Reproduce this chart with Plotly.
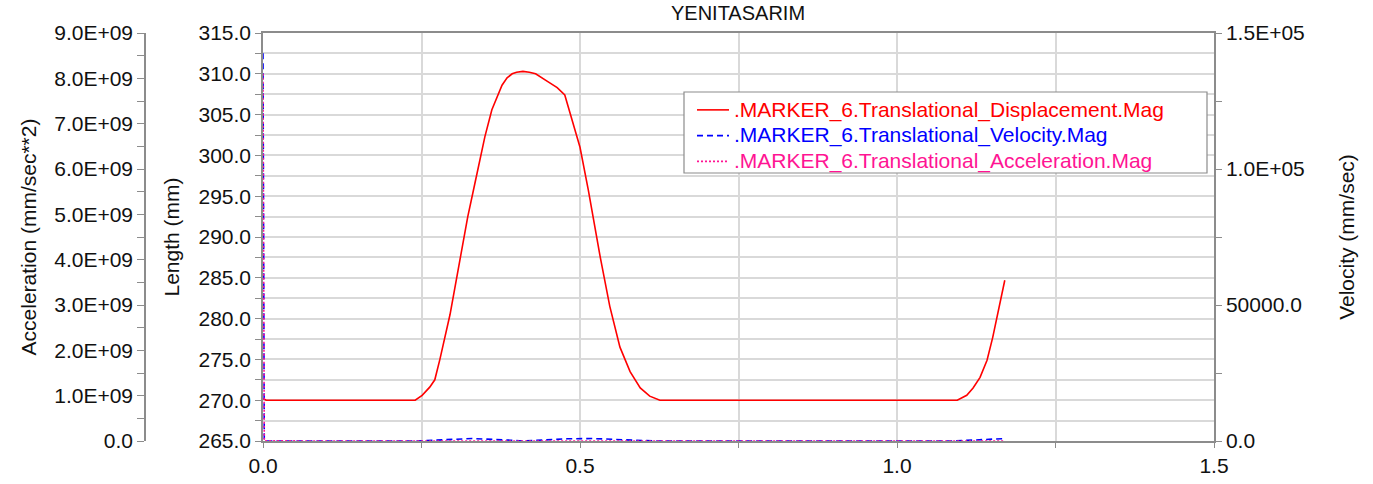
import plotly.graph_objects as go

# ---- series data -------------------------------------------------------
# Translational displacement magnitude (mm) vs time (sec)
t_disp = [0.0, 0.005, 0.05, 0.10, 0.15, 0.20, 0.24, 0.251, 0.263, 0.271, 0.279,
          0.295, 0.311, 0.323, 0.334, 0.350, 0.361, 0.369, 0.377, 0.385, 0.393,
          0.400, 0.410, 0.420, 0.430, 0.448, 0.464, 0.476, 0.489, 0.500, 0.513,
          0.532, 0.547, 0.563, 0.579, 0.595, 0.610, 0.626, 0.70, 0.80, 0.90, 1.00,
          1.08, 1.095, 1.110, 1.120, 1.131, 1.142, 1.151, 1.159, 1.170]
disp_mm = [270.2, 270.0, 270.0, 270.0, 270.0, 270.0, 270.0, 270.6, 271.6, 272.5, 275.0,
           280.5, 287.5, 292.5, 296.5, 302.3, 305.6, 307.2, 308.6, 309.5, 310.0,
           310.2, 310.3, 310.2, 310.0, 309.1, 308.3, 307.4, 304.0, 301.0, 295.8,
           287.5, 281.5, 276.5, 273.5, 271.5, 270.5, 270.0, 270.0, 270.0, 270.0, 270.0,
           270.0, 270.0, 270.6, 271.5, 272.8, 274.9, 277.7, 280.7, 284.7]

# Translational velocity magnitude (mm/sec)
t_vel = [0.0, 0.002, 0.24, 0.27, 0.30, 0.33, 0.36, 0.39, 0.41, 0.44, 0.48,
         0.52, 0.55, 0.58, 0.62, 1.09, 1.12, 1.15, 1.17]
vel_mms = [142600, 0, 0, 200, 600, 900, 700, 300, 0, 300, 800,
           900, 700, 300, 0, 0, 300, 700, 900]

# Translational acceleration magnitude (mm/sec**2)
t_acc = [0.0, 0.002, 0.30, 0.60, 0.90, 1.17]
acc_mms2 = [8.1e9, 2.0e6, 1.5e4, 1.2e4, 0.0, 1.5e4]

# ---- axis tick labels --------------------------------------------------
acc_ticks = [0, 1e9, 2e9, 3e9, 4e9, 5e9, 6e9, 7e9, 8e9, 9e9]
acc_labels = ["0.0", "1.0E+09", "2.0E+09", "3.0E+09", "4.0E+09", "5.0E+09",
              "6.0E+09", "7.0E+09", "8.0E+09", "9.0E+09"]
vel_ticks = [0, 50000, 100000, 150000]
vel_labels = ["0.0", "50000.0", "1.0E+05", "1.5E+05"]

names = [".MARKER_6.Translational_Displacement.Mag",
         ".MARKER_6.Translational_Velocity.Mag",
         ".MARKER_6.Translational_Acceleration.Mag"]
colors = ["#ff0000", "#0000ff", "#ff1493"]

FONT = "Arial, 'Liberation Sans', sans-serif"
GRID = "#d9d9d9"
AXIS = "#8c8c8c"

W, H = 1373, 484
ML, MR, MT, MB = 145, 159, 33, 43
PW, PH = W - ML - MR, H - MT - MB
plot_left = 263
dom0 = (plot_left - ML) / PW


def px_x(px):
    return (px - ML) / PW


def px_y(py):
    return 1 - (py - MT) / PH


def legend_label(text, color):
    # full-size coloured text inside a compact legend row
    return f"<span style='color:{color};font-size:21px'>{text}</span>"


fig = go.Figure()
fig.add_trace(go.Scatter(
    x=t_disp, y=disp_mm, mode="lines", yaxis="y",
    name=legend_label(names[0], colors[0]),
    line=dict(color=colors[0], width=1.6)))
fig.add_trace(go.Scatter(
    x=t_vel, y=vel_mms, mode="lines", yaxis="y2",
    name=legend_label(names[1], colors[1]),
    line=dict(color=colors[1], width=1.6, dash="6px,4px")))
fig.add_trace(go.Scatter(
    x=t_acc, y=acc_mms2, mode="lines", yaxis="y3",
    name=legend_label(names[2], colors[2]),
    line=dict(color=colors[2], width=1.6, dash="2px,2px")))

# legend frame
fig.add_shape(type="rect", xref="paper", yref="paper",
              x0=px_x(684), x1=px_x(1207), y0=px_y(173), y1=px_y(92),
              line=dict(color="#8c8c8c", width=1.2), fillcolor="white",
              layer="above")

fig.update_layout(
    width=W, height=H,
    margin=dict(l=ML, r=MR, t=MT, b=MB, pad=0),
    paper_bgcolor="white", plot_bgcolor="white",
    font=dict(family=FONT, size=21, color="#111111"),
    title=dict(text="YENITASARIM", font=dict(size=20, color="#111111"),
               xref="container", yref="container",
               x=738 / W, xanchor="center", y=1 - 13 / H, yanchor="middle"),
    showlegend=True,
    legend=dict(x=px_x(692), y=px_y(92), xanchor="left", yanchor="top",
                itemwidth=32, bgcolor="rgba(0,0,0,0)", borderwidth=0,
                font=dict(size=17.5), tracegroupgap=0),
    xaxis=dict(
        domain=[dom0, 1], range=[0, 1.5], tickmode="linear", tick0=0, dtick=0.5,
        tickformat=".1f", ticks="outside", ticklen=5, tickcolor=AXIS,
        showgrid=True, gridcolor=GRID, gridwidth=1.5, zeroline=False,
        showline=True, linecolor=AXIS, linewidth=1.5, mirror=True,
        minor=dict(tickmode="linear", tick0=0, dtick=0.25, ticks="outside",
                   ticklen=5, tickcolor=AXIS, showgrid=True,
                   gridcolor=GRID, gridwidth=1.5),
        automargin=False),
    yaxis=dict(
        anchor="x", side="left", range=[265, 315], tickmode="linear", tick0=265,
        dtick=5, tickformat=".1f", ticks="outside", ticklen=6, tickcolor=AXIS,
        showgrid=True, gridcolor=GRID, gridwidth=1.5, zeroline=False,
        showline=True, linecolor=AXIS, linewidth=1.5,
        minor=dict(tickmode="linear", tick0=265, dtick=2.5, ticks="outside",
                   ticklen=6, tickcolor=AXIS, showgrid=True,
                   gridcolor=GRID, gridwidth=1.5),
        title=dict(text="Length (mm)", standoff=13, font=dict(size=21)),
        automargin=False),
    yaxis2=dict(
        anchor="x", overlaying="y", side="right", range=[0, 150000],
        tickmode="array", tickvals=vel_ticks, ticktext=vel_labels,
        ticks="outside", ticklen=6, tickcolor=AXIS, showgrid=False,
        zeroline=False, showline=True, linecolor=AXIS, linewidth=1.5,
        minor=dict(tickmode="linear", tick0=0, dtick=25000, ticks="outside",
                   ticklen=6, tickcolor=AXIS, showgrid=False),
        title=dict(text="Velocity (mm/sec)", standoff=36, font=dict(size=21)),
        automargin=False),
    yaxis3=dict(
        anchor="free", overlaying="y", side="left", position=0,
        range=[0, 9e9], tickmode="array", tickvals=acc_ticks, ticktext=acc_labels,
        ticks="outside", ticklen=7, tickcolor=AXIS, showgrid=False,
        zeroline=False, showline=True, linecolor=AXIS, linewidth=1.5,
        minor=dict(tickmode="linear", tick0=0, dtick=0.5e9, ticks="outside",
                   ticklen=7, tickcolor=AXIS, showgrid=False),
        title=dict(text="Acceleration (mm/sec**2)", standoff=11,
                   font=dict(size=21)),
        automargin=False),
)

fig.write_html("out.html")
